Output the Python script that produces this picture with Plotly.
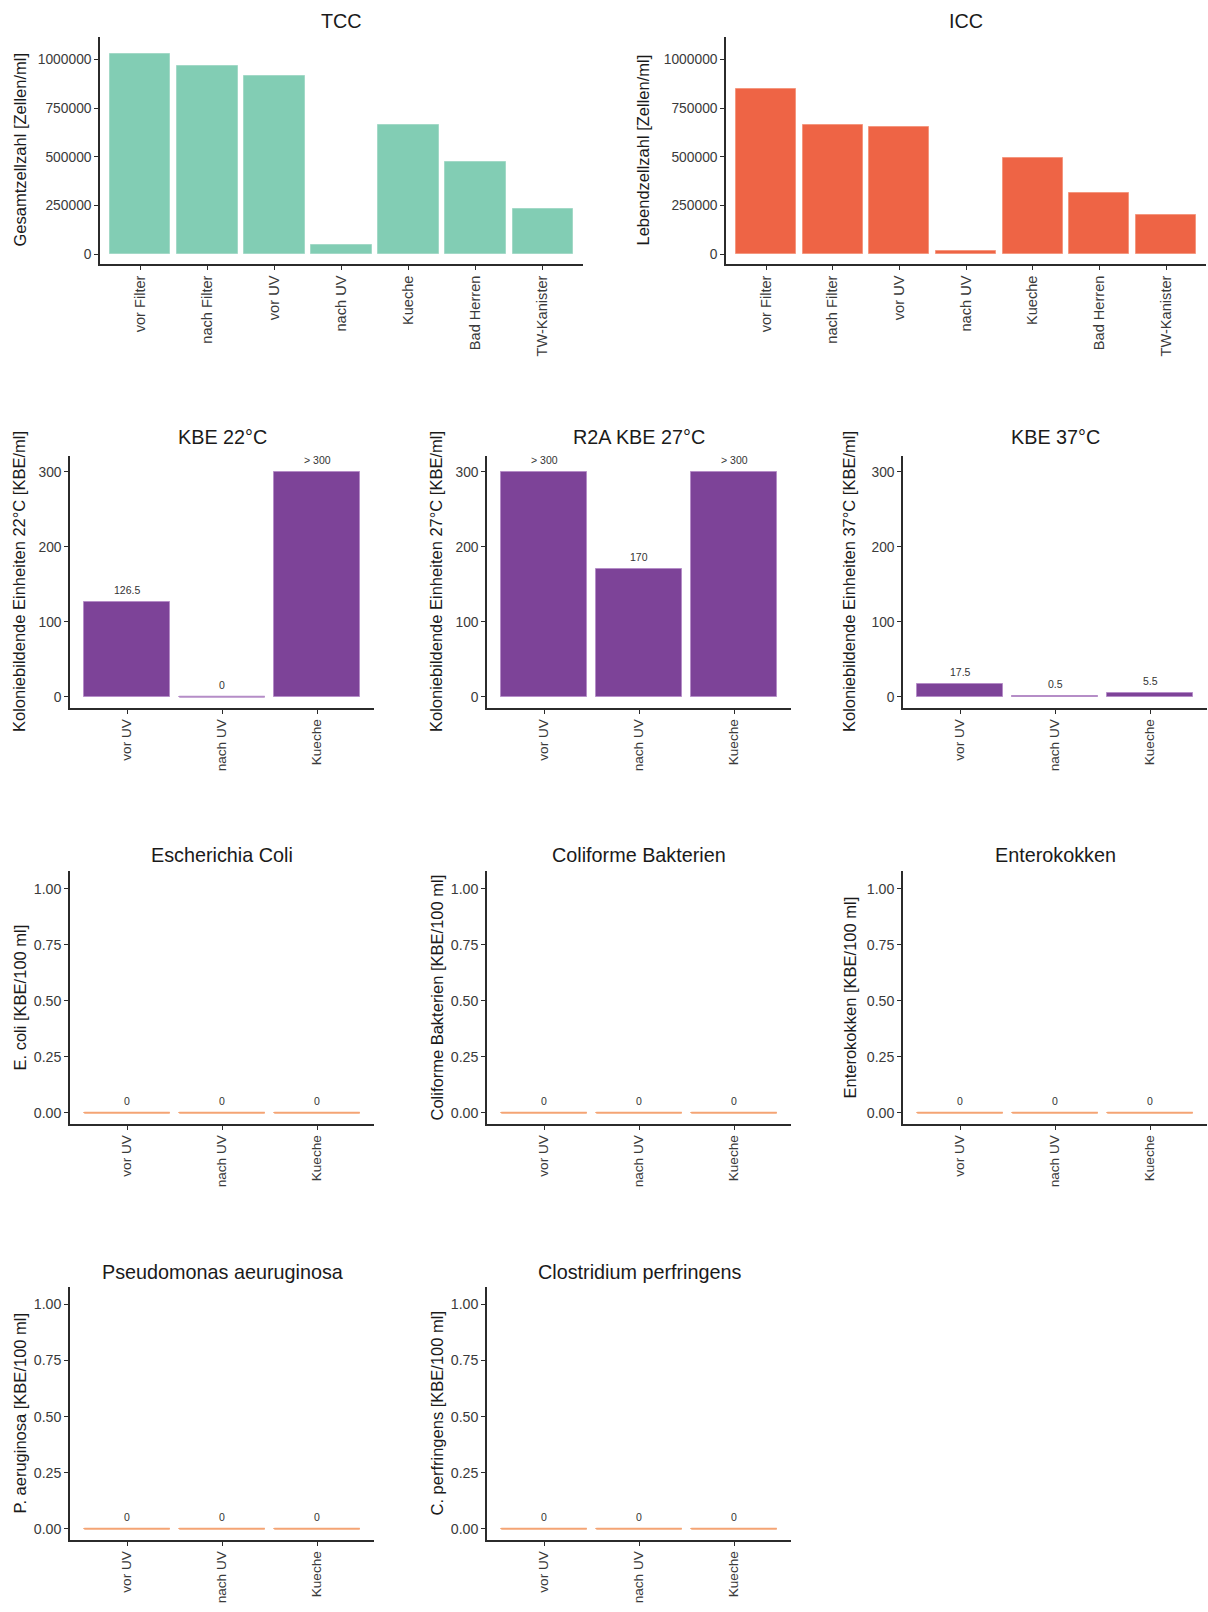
import plotly.graph_objects as go

W, H = 1208, 1612

# ---------------- data ----------------
site_categories = ["vor Filter", "nach Filter", "vor UV", "nach UV", "Kueche", "Bad Herren", "TW-Kanister"]
tcc_values = [1030000, 965000, 915000, 47000, 665000, 472000, 230000]
icc_values = [850000, 662000, 654000, 17000, 495000, 316000, 200000]
cell_ticks = [0, 250000, 500000, 750000, 1000000]

kbe_categories = ["vor UV", "nach UV", "Kueche"]
kbe22_values = [126.5, 0, 300]
kbe22_labels = ["126.5", "0", "> 300"]
r2a27_values = [300, 170, 300]
r2a27_labels = ["> 300", "170", "> 300"]
kbe37_values = [17.5, 0.5, 5.5]
kbe37_labels = ["17.5", "0.5", "5.5"]
kbe_ticks = [0, 100, 200, 300]

ecoli_values = [0, 0, 0]
coliform_values = [0, 0, 0]
entero_values = [0, 0, 0]
pseudo_values = [0, 0, 0]
clostr_values = [0, 0, 0]
zero_labels = ["0", "0", "0"]
fraction_ticks = [0, 0.25, 0.5, 0.75, 1.0]

# ---------------- styles ----------------
FONT = "Liberation Sans, Arial, sans-serif"
GREEN, GREEN_EDGE = "#82CDB4", "#A3D9C7"
RED, RED_EDGE = "#EE6445", "#F4977F"
PURPLE, PURPLE_EDGE = "#7D4398", "#B58DC7"
ORANGE, ORANGE_EDGE = "#F4A474", "#F4A474"
AXIS_COLOR = "#2b2b2b"
TICK_FONT_COLOR = "#3a3a3a"

row1_y = (37, 264)
row2_y = (456, 708)
row3_y = (871, 1124)
row4_y = (1287, 1540)
col_x = [(70, 374), (487, 791), (903, 1207)]
col_title_x = [19, 436, 849]

# title centre (px from top), x tick font, y tick font per row
row_style = {
    1: dict(title_y=21, xfont=14.6, yfont=13.8),
    2: dict(title_y=437, xfont=13.6, yfont=13.8),
    3: dict(title_y=855, xfont=13.6, yfont=14.2),
    4: dict(title_y=1272, xfont=13.6, yfont=14.2),
}

panels = [
    dict(row=1, cats=site_categories, vals=tcc_values, labels=None, fill=GREEN, edge=GREEN_EDGE,
         title="TCC", ytitle="Gesamtzellzahl [Zellen/ml]", xb=(100, 583), yb=row1_y,
         yrange=[-50000, 1115000], yticks=cell_ticks, fmt="d", ytx=19),
    dict(row=1, cats=site_categories, vals=icc_values, labels=None, fill=RED, edge=RED_EDGE,
         title="ICC", ytitle="Lebendzellzahl [Zellen/ml]", xb=(726, 1206), yb=row1_y,
         yrange=[-50000, 1115000], yticks=cell_ticks, fmt="d", ytx=642),
    dict(row=2, cats=kbe_categories, vals=kbe22_values, labels=kbe22_labels, fill=PURPLE, edge=PURPLE_EDGE,
         title="KBE 22°C", ytitle="Koloniebildende Einheiten 22°C [KBE/ml]", xb=col_x[0], yb=row2_y,
         yrange=[-15, 321], yticks=kbe_ticks, fmt="d", ytx=col_title_x[0]),
    dict(row=2, cats=kbe_categories, vals=r2a27_values, labels=r2a27_labels, fill=PURPLE, edge=PURPLE_EDGE,
         title="R2A KBE 27°C", ytitle="Koloniebildende Einheiten 27°C [KBE/ml]", xb=col_x[1], yb=row2_y,
         yrange=[-15, 321], yticks=kbe_ticks, fmt="d", ytx=col_title_x[1]),
    dict(row=2, cats=kbe_categories, vals=kbe37_values, labels=kbe37_labels, fill=PURPLE, edge=PURPLE_EDGE,
         title="KBE 37°C", ytitle="Koloniebildende Einheiten 37°C [KBE/ml]", xb=col_x[2], yb=row2_y,
         yrange=[-15, 321], yticks=kbe_ticks, fmt="d", ytx=col_title_x[2]),
    dict(row=3, cats=kbe_categories, vals=ecoli_values, labels=zero_labels, fill=ORANGE, edge=ORANGE_EDGE,
         title="Escherichia Coli", ytitle="E. coli [KBE/100 ml]", xb=col_x[0], yb=row3_y,
         yrange=[-0.05, 1.08], yticks=fraction_ticks, fmt=".2f", ytx=col_title_x[0]),
    dict(row=3, cats=kbe_categories, vals=coliform_values, labels=zero_labels, fill=ORANGE, edge=ORANGE_EDGE,
         title="Coliforme Bakterien", ytitle="Coliforme Bakterien [KBE/100 ml]", xb=col_x[1], yb=row3_y,
         yrange=[-0.05, 1.08], yticks=fraction_ticks, fmt=".2f", ytx=col_title_x[1]),
    dict(row=3, cats=kbe_categories, vals=entero_values, labels=zero_labels, fill=ORANGE, edge=ORANGE_EDGE,
         title="Enterokokken", ytitle="Enterokokken [KBE/100 ml]", xb=col_x[2], yb=row3_y,
         yrange=[-0.05, 1.08], yticks=fraction_ticks, fmt=".2f", ytx=col_title_x[2]),
    dict(row=4, cats=kbe_categories, vals=pseudo_values, labels=zero_labels, fill=ORANGE, edge=ORANGE_EDGE,
         title="Pseudomonas aeuruginosa", ytitle="P. aeruginosa [KBE/100 ml]", xb=col_x[0], yb=row4_y,
         yrange=[-0.05, 1.077], yticks=fraction_ticks, fmt=".2f", ytx=col_title_x[0]),
    dict(row=4, cats=kbe_categories, vals=clostr_values, labels=zero_labels, fill=ORANGE, edge=ORANGE_EDGE,
         title="Clostridium perfringens", ytitle="C. perfringens [KBE/100 ml]", xb=col_x[1], yb=row4_y,
         yrange=[-0.05, 1.077], yticks=fraction_ticks, fmt=".2f", ytx=col_title_x[1]),
]

fig = go.Figure()
annotations = []
layout = {}

for i, p in enumerate(panels, start=1):
    xa = "x" if i == 1 else f"x{i}"
    ya = "y" if i == 1 else f"y{i}"
    xkey = "xaxis" if i == 1 else f"xaxis{i}"
    ykey = "yaxis" if i == 1 else f"yaxis{i}"
    rs = row_style[p["row"]]
    n = len(p["cats"])
    idx = list(range(n))
    x0, x1 = p["xb"]
    top, bottom = p["yb"]

    fig.add_trace(go.Bar(
        x=idx, y=p["vals"], width=0.9, xaxis=xa, yaxis=ya,
        marker=dict(color=p["fill"], line=dict(color=p["edge"], width=1)),
        showlegend=False, hoverinfo="x+y",
    ))
    # zero-height bars: draw their outline as a segment
    zx, zy = [], []
    for k, v in enumerate(p["vals"]):
        if v == 0:
            zx += [k - 0.45, k + 0.45, None]
            zy += [v, v, None]
    if zx:
        fig.add_trace(go.Scatter(
            x=zx, y=zy, mode="lines", xaxis=xa, yaxis=ya,
            line=dict(color=p["edge"], width=2), showlegend=False, hoverinfo="skip",
        ))

    layout[xkey] = dict(
        domain=[x0 / W, x1 / W], anchor=ya, range=[-0.6, n - 0.4],
        tickmode="array", tickvals=idx, ticktext=p["cats"], tickangle=-90,
        showline=True, linecolor=AXIS_COLOR, linewidth=1.5,
        ticks="outside", ticklen=4, tickwidth=1.3, tickcolor=AXIS_COLOR,
        showgrid=False, zeroline=False, fixedrange=True,
        tickfont=dict(family=FONT, size=rs["xfont"], color=TICK_FONT_COLOR),
    )
    layout[ykey] = dict(
        domain=[1 - bottom / H, 1 - top / H], anchor=xa, range=p["yrange"],
        tickmode="array", tickvals=p["yticks"], tickformat=p["fmt"],
        showline=True, linecolor=AXIS_COLOR, linewidth=1.5,
        ticks="outside", ticklen=4, tickwidth=1.3, tickcolor=AXIS_COLOR,
        showgrid=False, zeroline=False, fixedrange=True,
        tickfont=dict(family=FONT, size=rs["yfont"], color=TICK_FONT_COLOR),
    )

    # panel title
    annotations.append(dict(
        x=(x0 + x1) / 2 / W, y=1 - rs["title_y"] / H, xref="paper", yref="paper",
        text=p["title"], showarrow=False, xanchor="center", yanchor="middle",
        font=dict(family=FONT, size=19.8, color="#1a1a1a"),
    ))
    # y-axis title
    annotations.append(dict(
        x=p["ytx"] / W, y=1 - ((top + bottom) / 2) / H, xref="paper", yref="paper",
        text=p["ytitle"], showarrow=False, textangle=-90, xanchor="center", yanchor="middle",
        font=dict(family=FONT, size=16.5, color="#1a1a1a"),
    ))
    # value labels
    if p["labels"]:
        for k, (v, lab) in enumerate(zip(p["vals"], p["labels"])):
            annotations.append(dict(
                x=k, y=v, xref=xa, yref=ya, text=lab, showarrow=False,
                xanchor="center", yanchor="middle", yshift=12,
                font=dict(family=FONT, size=10.5, color="#333333"),
            ))

fig.update_layout(
    width=W, height=H, autosize=False,
    margin=dict(l=0, r=0, t=0, b=0),
    paper_bgcolor="white", plot_bgcolor="white",
    bargap=0, showlegend=False,
    annotations=annotations,
    font=dict(family=FONT),
    **layout,
)

fig.write_html("out.html", config={"displayModeBar": False},
               post_script="document.body.style.margin='0';")
